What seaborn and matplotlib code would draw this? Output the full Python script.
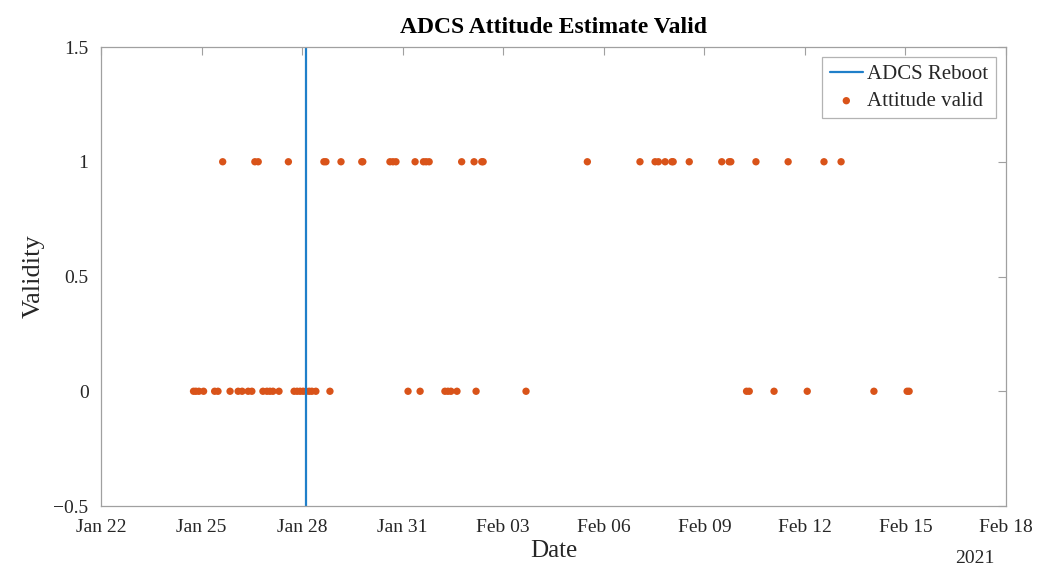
import matplotlib
matplotlib.use("Agg")
import matplotlib.pyplot as plt
import numpy as np
import pandas as pd
import seaborn as sns

# days after 2021-01-22 00:00
start = pd.Timestamp("2021-01-22")
valid_days = [3.63, 4.59, 4.69, 5.59, 6.65, 6.71, 7.16, 7.78, 7.81, 8.62, 8.71, 8.80,
              9.37, 9.62, 9.70, 9.79, 10.76, 11.13, 11.36, 11.40, 14.51, 16.08, 16.53,
              16.63, 16.83, 17.03, 17.07, 17.55, 18.52, 18.74, 18.79, 19.54, 20.50,
              21.57, 22.08]
invalid_days = [2.76, 2.83, 2.92, 3.06, 3.39, 3.49, 3.85, 4.09, 4.21, 4.39, 4.50, 4.83,
                4.95, 5.04, 5.13, 5.31, 5.76, 5.85, 5.94, 6.03, 6.12, 6.21, 6.29, 6.41,
                6.83, 9.16, 9.52, 10.26, 10.35, 10.44, 10.62, 11.19, 12.68, 19.26, 19.34,
                20.08, 21.07, 23.06, 24.05, 24.11]
reboot_day = 6.107

tick_dates = ["2021-01-22", "2021-01-25", "2021-01-28", "2021-01-31", "2021-02-03",
              "2021-02-06", "2021-02-09", "2021-02-12", "2021-02-15", "2021-02-18"]
tick_labels = ["Jan 22", "Jan 25", "Jan 28", "Jan 31", "Feb 03",
               "Feb 06", "Feb 09", "Feb 12", "Feb 15", "Feb 18"]
y_ticks = [-0.5, 0, 0.5, 1, 1.5]
y_labels = ["\u22120.5", "0", "0.5", "1", "1.5"]

df = pd.DataFrame({
    "time": [start + pd.Timedelta(days=d) for d in valid_days + invalid_days],
    "valid": [1] * len(valid_days) + [0] * len(invalid_days),
})

sns.set_theme(style="white")
plt.rcParams["font.family"] = ["Liberation Serif", "DejaVu Serif"]

fig = plt.figure(figsize=(10.49, 5.65), dpi=100)
ax = fig.add_axes([0.0963, 0.1044, 0.8627, 0.8124])

blue = "#1f7fc9"
orange = "#D95319"
edge = "#a0a0a0"
txt = "#262626"

ax.axvline(start + pd.Timedelta(days=reboot_day), color=blue, lw=1.6, label="ADCS Reboot")
sns.scatterplot(data=df, x="time", y="valid", ax=ax, color=orange, s=28,
                edgecolor="none", label="Attitude valid")

ax.set_xlim(pd.Timestamp(tick_dates[0]), pd.Timestamp(tick_dates[-1]))
ax.set_ylim(-0.5, 1.5)
ax.set_xticks([pd.Timestamp(t) for t in tick_dates])
ax.set_xticklabels(tick_labels)
ax.set_yticks(y_ticks)
ax.set_yticklabels(y_labels)

ax.tick_params(axis="both", direction="in", length=6, width=0.8, color=edge,
               labelsize=14, labelcolor=txt, top=True, right=True)
ax.tick_params(axis="x", pad=9)
ax.tick_params(axis="y", pad=9)
for s in ax.spines.values():
    s.set_color(edge)
    s.set_linewidth(0.9)

ax.set_xlabel("Date", fontsize=18, color=txt, labelpad=3)
ax.set_ylabel("Validity", fontsize=19, color=txt, labelpad=6)
ax.set_title("ADCS Attitude Estimate Valid", fontsize=17, fontweight="bold", color="black", pad=10)
ax.text(0.966, -0.095, "2021", transform=ax.transAxes, fontsize=14, color=txt,
        ha="center", va="top")

leg = ax.legend(loc="upper right", fontsize=15, frameon=True, fancybox=False,
                handlelength=1.6, handletextpad=0.2, borderpad=0.35, labelspacing=0.35,
                borderaxespad=0.5)
leg.get_frame().set_edgecolor(edge)
leg.get_frame().set_linewidth(0.9)
for t in leg.get_texts():
    t.set_color(txt)

fig.savefig("out.png", dpi=100)
